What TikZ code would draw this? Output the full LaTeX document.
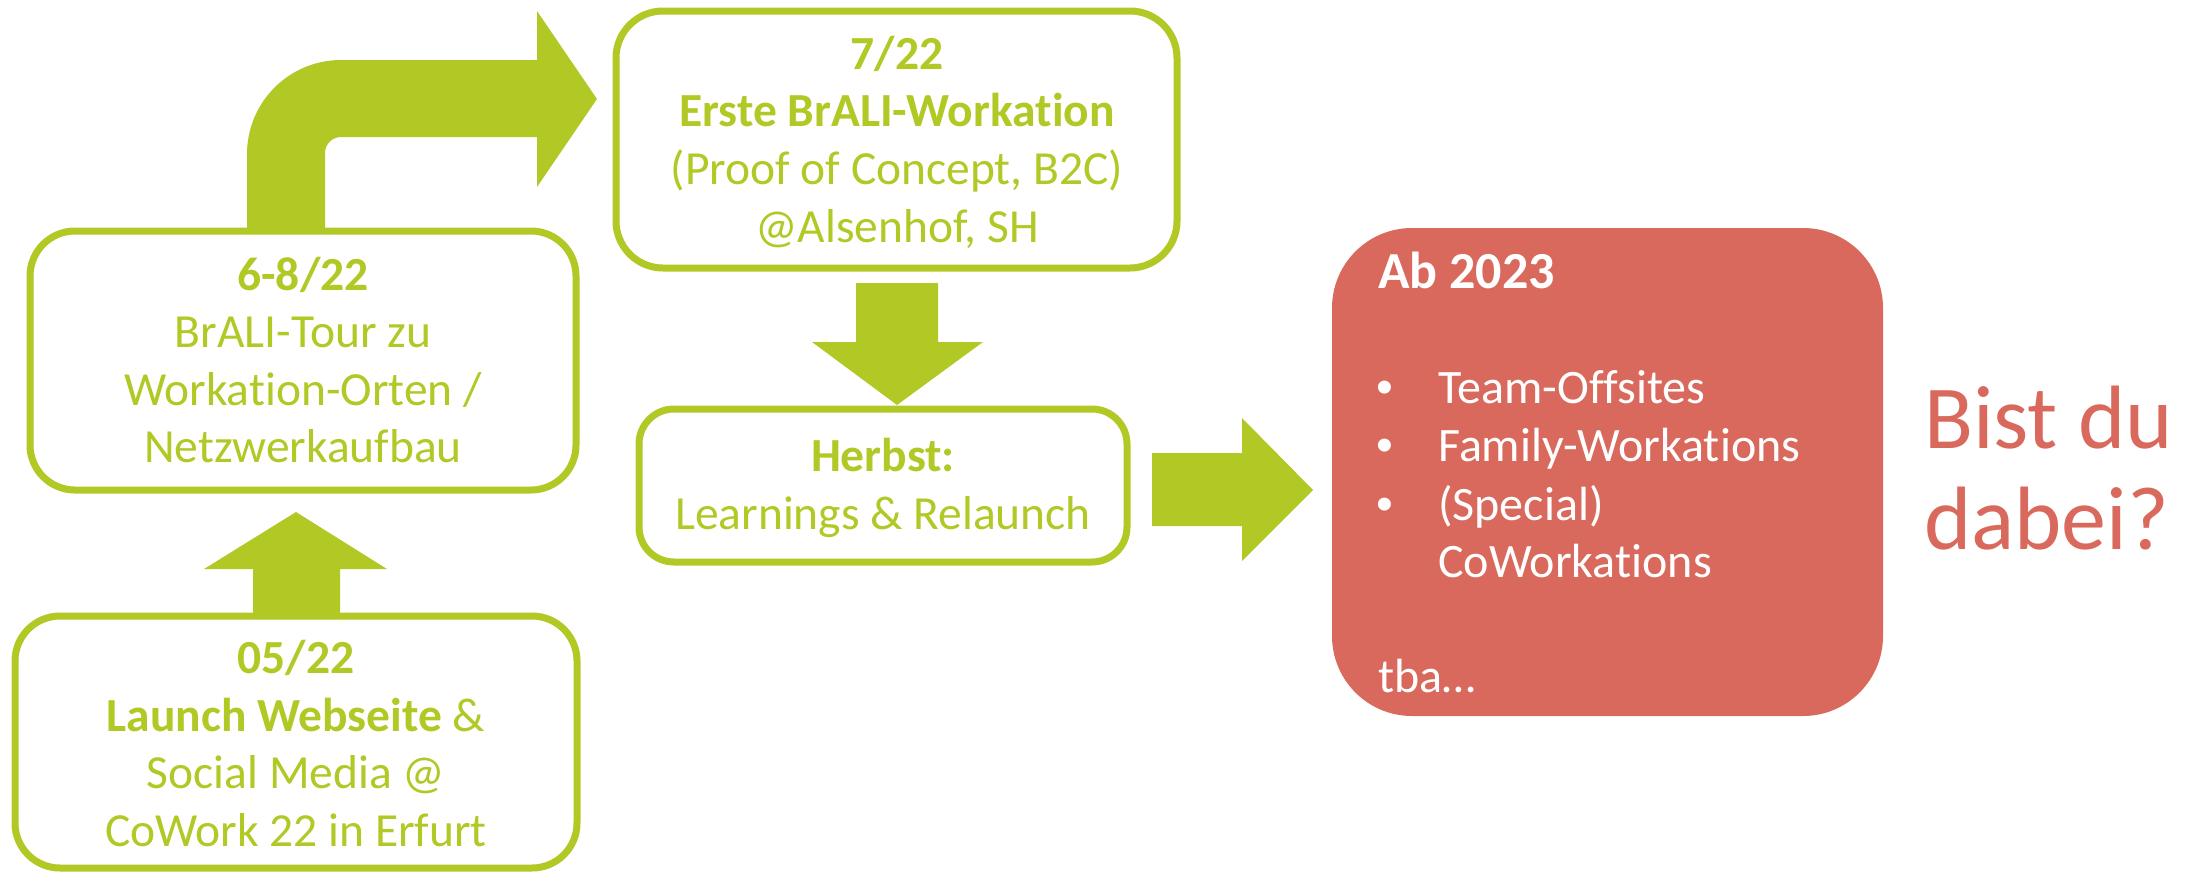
\documentclass[tikz,border=0pt]{standalone}
\usepackage{fontspec}
\setmainfont{Carlito}[Ligatures=CommonOff]
\newfontfamily\bulletfont{Liberation Sans}
\definecolor{lime}{RGB}{178,200,37}
\definecolor{coral}{RGB}{217,105,92}
\begin{document}
\begin{tikzpicture}[x=1pt,y=-1pt,
  gbox/.style={draw=lime, line width=7pt, fill=white, inner sep=0pt},
  rbox/.style={fill=coral, inner sep=0pt, rounded corners=80pt},
  blockarrow/.style={fill=lime, draw=none},
  gtxt/.style={text=lime, font=\fontsize{47.5}{57}\selectfont, anchor=base, inner sep=0pt},
  wtxt/.style={text=white, font=\fontsize{48}{57}\selectfont, anchor=base west, inner sep=0pt},
  bigtxt/.style={text=coral, font=\fontsize{90}{100}\selectfont, anchor=base west, inner sep=0pt}]
\useasboundingbox (0,0) rectangle (2195,873);

% boxes
\node[gbox, rounded corners=45pt, minimum width=546pt, minimum height=259pt] (A) at (303,360.5) {};
\node[gbox, rounded corners=47pt, minimum width=561pt, minimum height=257pt] (B) at (896.5,139.5) {};
\node[gbox, rounded corners=35pt, minimum width=488pt, minimum height=153pt] (H) at (883,485.5) {};
\node[gbox, rounded corners=45pt, minimum width=562pt, minimum height=252pt] (C) at (296,742) {};
\node[rbox, minimum width=551pt, minimum height=488pt] (R) at (1607.5,472) {};

% block arrows
% C -> A
\fill[blockarrow] (253,619) -- (253,569) -- (204,569) -- (296,512) -- (387,569) -- (340,569) -- (340,619) -- cycle;
% A -> B (bent)
\fill[blockarrow] (247,229) -- (247,154) .. controls (247,102.1) and (289.1,60) .. (341,60)
  -- (537,60) -- (537,11) -- (597,99) -- (537,187) -- (537,137) -- (341,137)
  .. controls (332.2,137) and (325,144.2) .. (325,153) -- (325,229) -- cycle;
% B -> H
\fill[blockarrow] (856,283) -- (938,283) -- (938,342) -- (983,342) -- (897,405) -- (812,342) -- (856,342) -- cycle;
% H -> R
\fill[blockarrow] (1152,453) -- (1242,453) -- (1242,418) -- (1313,490) -- (1242,561) -- (1242,526) -- (1152,526) -- cycle;

% texts box A
\node[gtxt] (a1) at (303,290) {\bfseries 6-8/22};
\node[gtxt] (a2) at (303,347) {BrALI-Tour zu};
\node[gtxt] (a3) at (303,405) {Workation-Orten /};
\node[gtxt] (a4) at (303,462) {Netzwerkaufbau};
% texts box B
\node[gtxt] (b1) at (897,69) {\bfseries 7/22};
\node[gtxt] (b2) at (897,126) {\bfseries Erste BrALI-Workation};
\node[gtxt] (b3) at (897,184) {(Proof of Concept, B2C)};
\node[gtxt] (b4) at (897,242) {@Alsenhof, SH};
% texts box H
\node[gtxt] (h1) at (883,471) {\bfseries Herbst:};
\node[gtxt] (h2) at (883,529) {Learnings \& Relaunch};
% texts box C
\node[gtxt] (c1) at (296,673) {\bfseries 05/22};
\node[gtxt] (c2) at (296,731) {\textbf{Launch Webseite} \&};
\node[gtxt] (c3) at (296,788) {Social Media @};
\node[gtxt] (c4) at (296,846) {CoWork 22 in Erfurt};
% texts red box
\node[wtxt, font=\fontsize{52}{60}\selectfont\bfseries] (r0) at (1378,288) {Ab 2023};
\node[wtxt, font=\fontsize{48}{57}\bulletfont] (rb1) at (1376,403) {•};
\node[wtxt, font=\fontsize{48}{57}\bulletfont] (rb2) at (1376,461) {•};
\node[wtxt, font=\fontsize{48}{57}\bulletfont] (rb3) at (1376,520) {•};
\node[wtxt] (r1) at (1438,403) {Team-Offsites};
\node[wtxt] (r2) at (1438,461) {Family-Workations};
\node[wtxt] (r3) at (1438,520) {(Special)};
\node[wtxt] (r4) at (1438,577) {CoWorkations};
\node[wtxt] (r5) at (1378,692) {tba…};
% question
\node[bigtxt] (q1) at (1924,448) {Bist du};
\node[bigtxt] (q2) at (1924,549) {dabei?};
\end{tikzpicture}
\end{document}
